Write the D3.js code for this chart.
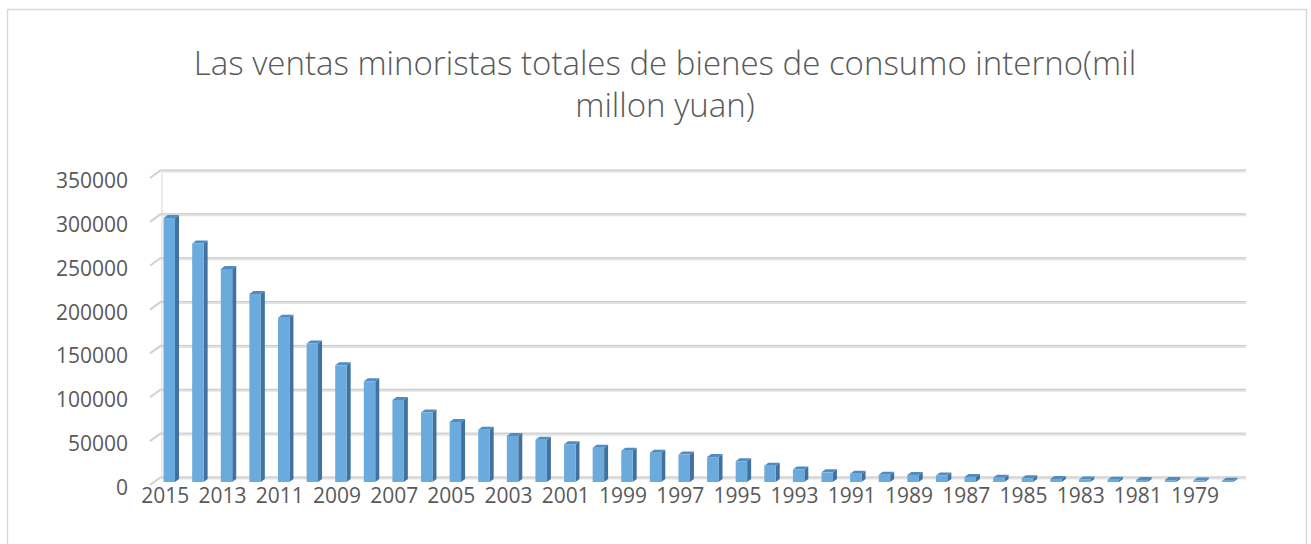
<!DOCTYPE html>
<html>
<head>
<meta charset="utf-8">
<script src="https://cdn.jsdelivr.net/npm/d3@7"></script>
<style>
  body { margin: 0; background: #fff; }
  text { font-family: "Open Sans", "DejaVu Sans", sans-serif; fill: #595959; }
</style>
</head>
<body>
<div id="chart"></div>
<script>
// retail sales per year, newest first (as in the chart)
const years = [2015, 2014, 2013, 2012, 2011, 2010, 2009, 2008, 2007, 2006,
  2005, 2004, 2003, 2002, 2001, 2000, 1999, 1998, 1997, 1996,
  1995, 1994, 1993, 1992, 1991, 1990, 1989, 1988, 1987, 1986,
  1985, 1984, 1983, 1982, 1981, 1980, 1979, 1978]
const sales = [300931, 271896, 242843, 214433, 187206, 158008, 133048, 114830, 93572, 79145,
  68353, 59501, 52516, 48136, 43055, 39106, 35648, 33378, 31253, 28360,
  23614, 18623, 14270, 10994, 9416, 8300, 8101, 7440, 5820, 4950,
  4305, 3376, 2849, 2570, 2350, 2140, 1800, 1559]
const yTicks = [0, 50000, 100000, 150000, 200000, 250000, 300000, 350000]
const titleLines = ["Las ventas minoristas totales de bienes de consumo interno(mil", "millon yuan)"]

const data = years.map((y, i) => ({ year: y, value: sales[i] }))

const width = 1311, height = 544
const svg = d3.select("#chart").append("svg")
  .attr("width", width)
  .attr("height", height)

// chart border
svg.append("rect")
  .attr("x", 7.5).attr("y", 9.5)
  .attr("width", 1299).attr("height", 600)
  .attr("fill", "none")
  .attr("stroke", "#d9d9d9")
  .attr("stroke-width", 1.5)

// title
svg.append("text")
  .attr("text-anchor", "middle")
  .style("font-size", "33px")
  .style("font-weight", 300)
  .selectAll("tspan")
  .data(titleLines)
  .join("tspan")
  .attr("x", 665)
  .attr("y", (d, i) => 75 + i * 42)
  .text(d => d)

// scales: back wall for gridlines, front plane for the bars
const x = d3.scaleBand().domain(years).range([155, 1242]).paddingInner(0.6).paddingOuter(0.3)
const yBack = d3.scaleLinear().domain([0, 350000]).range([477, 170])
const yFront = d3.scaleLinear().domain([0, 350000]).range([482, 175])

const wallLeft = 161, wallRight = 1246
const depthX = 4, depthY = 3

// gridlines with the little perspective tick on the left
const grid = svg.append("g")
grid.append("line")
  .attr("x1", wallLeft + 1).attr("x2", wallLeft + 1)
  .attr("y1", yBack(350000)).attr("y2", yBack(0))
  .attr("stroke", "#e6e6e6").attr("stroke-width", 1.5)
const gl = grid.selectAll("g").data(yTicks).join("g")
gl.append("line")
  .attr("x1", wallLeft).attr("x2", wallRight)
  .attr("y1", d => yBack(d) + 1).attr("y2", d => yBack(d) + 1)
  .attr("stroke", "#e2e2e2").attr("stroke-width", 3)
gl.append("line")
  .attr("x1", wallLeft).attr("x2", wallRight)
  .attr("y1", d => yBack(d)).attr("y2", d => yBack(d))
  .attr("stroke", "#c4c4c4").attr("stroke-width", 0.8)
gl.append("line")
  .attr("x1", 150).attr("x2", wallLeft)
  .attr("y1", d => yBack(d) + 8).attr("y2", d => yBack(d))
  .attr("stroke", "#d0d0d0").attr("stroke-width", 2)

// y axis labels
svg.append("g").selectAll("text").data(yTicks).join("text")
  .attr("x", 128)
  .attr("y", d => yBack(d) + 10)
  .attr("text-anchor", "end")
  .attr("dominant-baseline", "central")
  .style("font-size", "21px")
  .text(d => d)

// 3d columns: side, top, front
const bars = svg.append("g").selectAll("g").data(data).join("g")
bars.append("path")
  .attr("fill", "#41729f")
  .attr("d", d => {
    const x1 = x(d.year) + x.bandwidth(), yt = yFront(d.value), yb = yFront(0)
    return `M${x1},${yt}L${x1 + depthX},${yt - depthY}L${x1 + depthX},${yb - depthY}L${x1},${yb}Z`
  })
bars.append("path")
  .attr("fill", "#4f8cc4")
  .attr("d", d => {
    const x0 = x(d.year), x1 = x0 + x.bandwidth(), yt = yFront(d.value)
    return `M${x0},${yt}L${x0 + depthX},${yt - depthY}L${x1 + depthX},${yt - depthY}L${x1},${yt}Z`
  })
bars.append("rect")
  .attr("x", d => x(d.year))
  .attr("y", d => yFront(d.value))
  .attr("width", x.bandwidth())
  .attr("height", d => yFront(0) - yFront(d.value))
  .attr("fill", "#6aaadc")

// x axis labels, every other year
svg.append("g").selectAll("text")
  .data(years.filter((d, i) => i % 2 === 0))
  .join("text")
  .attr("x", d => x(d) + x.bandwidth() / 2 - 4)
  .attr("y", 495)
  .attr("text-anchor", "middle")
  .attr("dominant-baseline", "central")
  .style("font-size", "21px")
  .text(d => d)
</script>
</body>
</html>
